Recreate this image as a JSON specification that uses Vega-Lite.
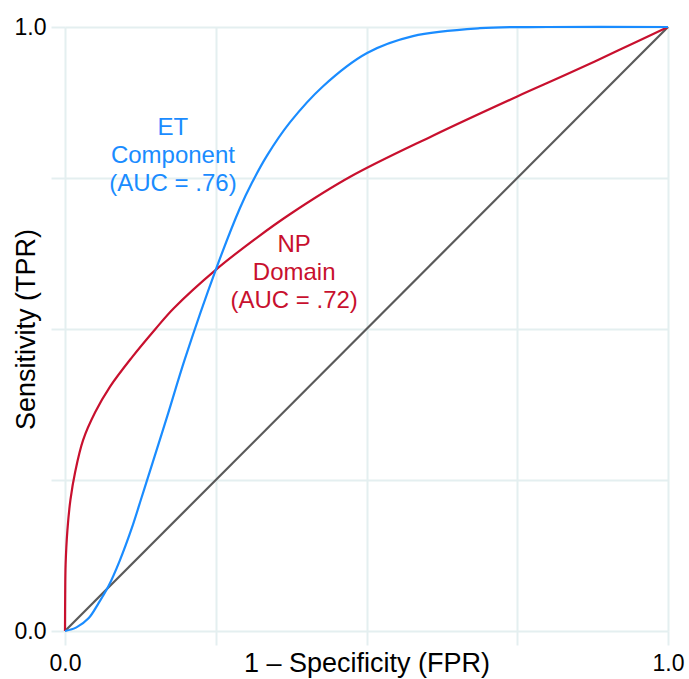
{
  "$schema": "https://vega.github.io/schema/vega-lite/v6.json",
  "width": 603,
  "height": 604,
  "autosize": {"type": "none"},
  "padding": {"left": 65, "top": 27, "right": 21, "bottom": 48},
  "background": "white",
  "config": {
    "view": {"stroke": null},
    "font": "Liberation Sans",
    "axis": {
      "grid": true,
      "gridColor": "#e4eff0",
      "gridWidth": 2,
      "tickColor": "#e4eff0",
      "tickWidth": 2,
      "tickSize": 14,
      "domain": false,
      "labelFont": "Liberation Sans",
      "labelFontSize": 23,
      "labelColor": "#000000",
      "titleFont": "Liberation Sans",
      "titleFontSize": 27,
      "titleFontWeight": "normal",
      "titleColor": "#000000"
    }
  },
  "datasets": {
    "curves": [
      {"series": "Chance", "fpr": 0, "tpr": 0},
      {"series": "Chance", "fpr": 1, "tpr": 1},
      {"series": "NP", "fpr": 0, "tpr": 0},
      {"series": "NP", "fpr": 0.0003, "tpr": 0.06},
      {"series": "NP", "fpr": 0.001, "tpr": 0.11},
      {"series": "NP", "fpr": 0.004, "tpr": 0.167},
      {"series": "NP", "fpr": 0.009, "tpr": 0.217},
      {"series": "NP", "fpr": 0.017, "tpr": 0.264},
      {"series": "NP", "fpr": 0.03, "tpr": 0.316},
      {"series": "NP", "fpr": 0.05, "tpr": 0.362},
      {"series": "NP", "fpr": 0.075, "tpr": 0.405},
      {"series": "NP", "fpr": 0.111, "tpr": 0.453},
      {"series": "NP", "fpr": 0.15, "tpr": 0.5},
      {"series": "NP", "fpr": 0.18, "tpr": 0.534},
      {"series": "NP", "fpr": 0.25, "tpr": 0.598},
      {"series": "NP", "fpr": 0.318, "tpr": 0.651},
      {"series": "NP", "fpr": 0.373, "tpr": 0.69},
      {"series": "NP", "fpr": 0.473, "tpr": 0.752},
      {"series": "NP", "fpr": 0.61, "tpr": 0.82},
      {"series": "NP", "fpr": 0.75, "tpr": 0.885},
      {"series": "NP", "fpr": 0.833, "tpr": 0.922},
      {"series": "NP", "fpr": 0.917, "tpr": 0.961},
      {"series": "NP", "fpr": 1, "tpr": 1},
      {"series": "ET", "fpr": 0, "tpr": 0},
      {"series": "ET", "fpr": 0.019, "tpr": 0.006},
      {"series": "ET", "fpr": 0.039, "tpr": 0.021},
      {"series": "ET", "fpr": 0.055, "tpr": 0.045},
      {"series": "ET", "fpr": 0.072, "tpr": 0.074},
      {"series": "ET", "fpr": 0.091, "tpr": 0.117},
      {"series": "ET", "fpr": 0.111, "tpr": 0.171},
      {"series": "ET", "fpr": 0.127, "tpr": 0.221},
      {"series": "ET", "fpr": 0.141, "tpr": 0.265},
      {"series": "ET", "fpr": 0.17, "tpr": 0.357},
      {"series": "ET", "fpr": 0.199, "tpr": 0.451},
      {"series": "ET", "fpr": 0.25, "tpr": 0.598},
      {"series": "ET", "fpr": 0.29, "tpr": 0.7},
      {"series": "ET", "fpr": 0.31, "tpr": 0.742},
      {"series": "ET", "fpr": 0.335, "tpr": 0.787},
      {"series": "ET", "fpr": 0.373, "tpr": 0.842},
      {"series": "ET", "fpr": 0.428, "tpr": 0.902},
      {"series": "ET", "fpr": 0.501, "tpr": 0.957},
      {"series": "ET", "fpr": 0.577, "tpr": 0.985},
      {"series": "ET", "fpr": 0.688, "tpr": 0.998},
      {"series": "ET", "fpr": 0.8, "tpr": 1.0},
      {"series": "ET", "fpr": 1, "tpr": 1}
    ],
    "labels": [
      {"series": "ET", "fpr": 0.179, "tpr": 0.833, "label": "ET\nComponent\n(AUC = .76)"},
      {"series": "NP", "fpr": 0.38, "tpr": 0.639, "label": "NP\nDomain\n(AUC = .72)"}
    ]
  },
  "layer": [
    {
      "data": {"name": "curves"},
      "mark": {"type": "line", "strokeWidth": 2.2, "interpolate": "catmull-rom"},
      "encoding": {
        "x": {
          "field": "fpr", "type": "quantitative",
          "scale": {"domain": [0, 1], "nice": false, "zero": false},
          "axis": {
            "values": [0, 0.25, 0.5, 0.75, 1],
            "labelExpr": "datum.value == 0 || datum.value == 1 ? format(datum.value, '.1f') : ''",
            "labelFlush": false,
            "labelPadding": 7,
            "title": "1 – Specificity (FPR)",
            "titleBaseline": "middle",
            "titleY": 32
          }
        },
        "y": {
          "field": "tpr", "type": "quantitative",
          "scale": {"domain": [0, 1], "nice": false, "zero": false},
          "axis": {
            "values": [0, 0.25, 0.5, 0.75, 1],
            "labelExpr": "datum.value == 0 || datum.value == 1 ? format(datum.value, '.1f') : ''",
            "labelFlush": false,
            "labelPadding": 5,
            "title": "Sensitivity (TPR)",
            "titleAngle": -90,
            "titleBaseline": "middle",
            "titleAlign": "center",
            "titleX": -39,
            "titleY": 302
          }
        },
        "color": {
          "field": "series", "type": "nominal",
          "scale": {"domain": ["Chance", "NP", "ET"], "range": ["#5a5a5a", "#c8102e", "#1a8cff"]},
          "legend": null
        },
        "order": [{"field": "fpr", "type": "quantitative"}, {"field": "tpr", "type": "quantitative"}]
      }
    },
    {
      "data": {"name": "labels"},
      "mark": {"type": "text", "fontSize": 24, "lineBreak": "\n", "lineHeight": 28, "align": "center", "baseline": "middle", "font": "Liberation Sans"},
      "encoding": {
        "x": {"field": "fpr", "type": "quantitative"},
        "y": {"field": "tpr", "type": "quantitative"},
        "text": {"field": "label", "type": "nominal"},
        "color": {"field": "series", "type": "nominal", "legend": null}
      }
    }
  ]
}
